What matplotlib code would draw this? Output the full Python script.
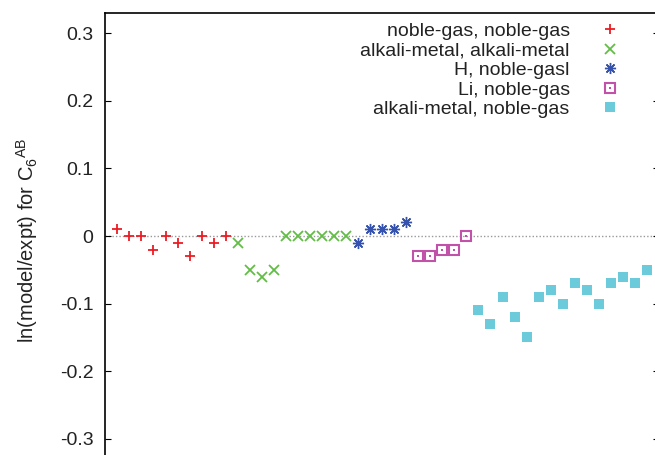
import numpy as np
import matplotlib.pyplot as plt
from matplotlib.legend_handler import HandlerTuple

plt.rcParams['font.family'] = ['Liberation Sans', 'DejaVu Sans']
plt.rcParams['mathtext.fontset'] = 'custom'
plt.rcParams['mathtext.rm'] = 'Liberation Sans'
plt.rcParams['mathtext.it'] = 'Liberation Sans'
plt.rcParams['mathtext.default'] = 'regular'
plt.rcParams['axes.unicode_minus'] = False

# ln(model/expt) for each pair, grouped by pair type
ng_ng = [0.01, 0, 0, -0.02, 0, -0.01, -0.03, 0, -0.01, 0]
am_am = [-0.01, -0.05, -0.06, -0.05, 0, 0, 0, 0, 0, 0]
h_ng = [-0.01, 0.01, 0.01, 0.01, 0.02]
li_ng = [-0.03, -0.03, -0.02, -0.02, 0]
am_ng = [-0.11, -0.13, -0.09, -0.12, -0.15, -0.09, -0.08, -0.10,
         -0.07, -0.08, -0.10, -0.07, -0.06, -0.07, -0.05]

labels = ['noble-gas, noble-gas', 'alkali-metal, alkali-metal',
          'H, noble-gasl', 'Li, noble-gas', 'alkali-metal, noble-gas']
colors = ['#ec1c24', '#62bd45', '#3552ad', '#c151a9', '#6ccbdb']

yticks = [-0.3, -0.2, -0.1, 0, 0.1, 0.2, 0.3]
ytick_labels = ['-0.3', '-0.2', '-0.1', '0', '0.1', '0.2', '0.3']

fig = plt.figure(figsize=(6.55, 4.55), dpi=100)
ax = fig.add_axes([0.1608, -0.0088, 0.8453, 0.9802])

# consecutive x index across all groups
groups = [ng_ng, am_am, h_ng, li_ng, am_ng]
starts = np.cumsum([1] + [len(g) for g in groups[:-1]])
xs = [np.arange(s, s + len(g)) for s, g in zip(starts, groups)]

ax.axhline(0, color='#999999', lw=1.0, ls=(0, (1, 1.5)), zorder=1)

h1, = ax.plot(xs[0], ng_ng, ls='none', marker='+', ms=7.5, mew=1.3, color=colors[0])
h2, = ax.plot(xs[1], am_am, ls='none', marker='x', ms=7, mew=1.3, color=colors[1])
h3, = ax.plot(xs[2], h_ng, ls='none', marker=(8, 2, 0), ms=8, mew=1.0, color=colors[2])
h4, = ax.plot(xs[3], li_ng, ls='none', marker='s', ms=7.5, mew=1.5,
              mfc='none', color=colors[3])
h4d, = ax.plot(xs[3], li_ng, ls='none', marker='s', ms=1.5, mew=0, color=colors[3])
h5, = ax.plot(xs[4], am_ng, ls='none', marker='s', ms=7.5, mew=0, color=colors[4])

leg = ax.legend([h1, h2, h3, (h4, h4d), h5], labels,
                handler_map={tuple: HandlerTuple(ndivide=1, pad=0)},
                loc='upper right', bbox_to_anchor=(0.944, 0.979),
                frameon=False, markerfirst=False, fontsize=14,
                handlelength=1.8, handletextpad=1.2, labelspacing=0.1,
                borderpad=0, borderaxespad=0)
leg._legend_box._children[-1]._children[0].align = 'right'
for t in leg.get_texts():
    t.set_color('#222222')

ax.set_xlim(0, 46)
ax.set_ylim(-0.33, 0.33)
ax.set_yticks(yticks)
ax.set_yticklabels(ytick_labels)
ax.set_xticks([])
ax.tick_params(axis='y', direction='in', length=4.5, width=0.8, pad=8.5,
               labelsize=14, labelcolor='#222222', right=True)

for side in ['left', 'top', 'right', 'bottom']:
    ax.spines[side].set_linewidth(1.2)
ax.spines['bottom'].set_visible(False)

ax.set_ylabel('ln(model/expt) for C$_6$$^{AB}$', fontsize=14.5, color='#222222')
ax.yaxis.set_label_coords(-0.118, 0.49)

fig.savefig('out.png', dpi=100)
